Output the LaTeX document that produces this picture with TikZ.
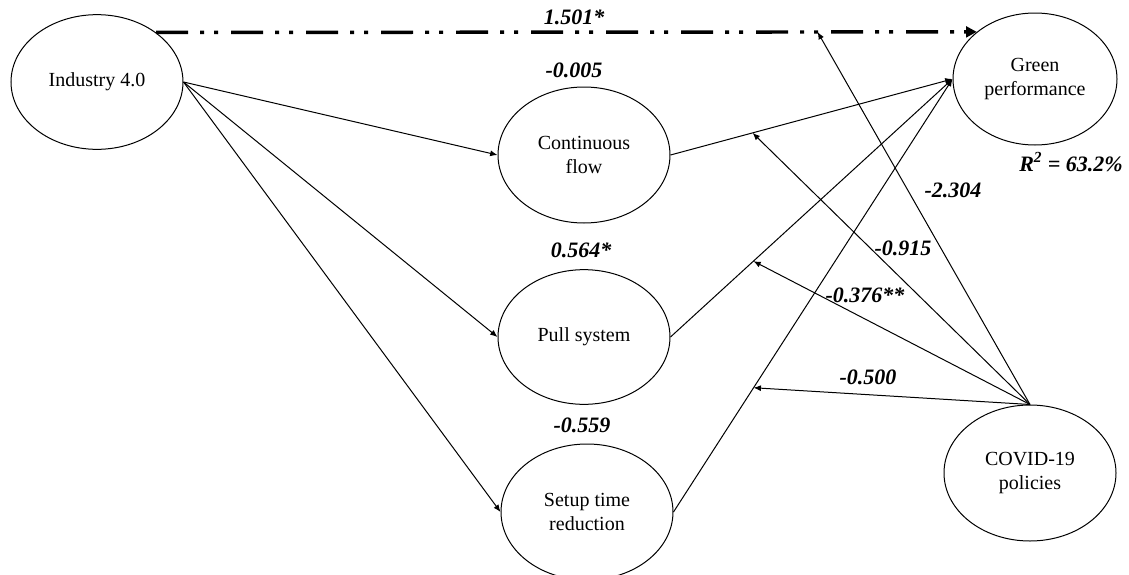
\documentclass[tikz,border=0pt]{standalone}
\usepackage{fontspec}
\setmainfont{Liberation Serif}
\usetikzlibrary{shapes.geometric,arrows.meta}
\begin{document}
\begin{tikzpicture}[x=0.75pt,y=-0.75pt,
  latent/.style={draw,ellipse,line width=0.75pt,inner sep=0pt,align=center,
     minimum width=129pt,minimum height=101pt,font=\fontsize{15}{17.5}\selectfont},
  path/.style={line width=0.75pt,-{Latex[length=5.5pt,width=4.5pt]}},
  coef/.style={font=\fontsize{16.5}{19}\selectfont\bfseries\itshape,inner sep=0pt},
  dashdotdot/.style={line width=2.6pt,dash pattern=on 24pt off 9pt on 3pt off 7.5pt on 3pt off 9.75pt,
     -{Triangle[length=8pt,width=8pt]}}
]
\useasboundingbox (0,0) rectangle (1129,575);
\node[latent] (ind) at (97,82) {Industry 4.0};
\node[latent,minimum width=123pt,minimum height=99pt] (gp) at (1035,79) {Green\\performance};
\node[latent,minimum height=102pt] (cf) at (584,155) {Continuous\\flow};
\node[latent] (ps) at (584,337) {Pull system};
\node[latent,minimum height=102pt] (st) at (587,512) {Setup time\\reduction};
\node[latent,minimum height=102pt] (cv) at (1030,473) {COVID-19\\policies};

% direct effect
\draw[dashdotdot] (ind.40) -- (gp.141);
\path (ind.40) -- (gp.141) coordinate[pos=0.806] (m1);

% Industry 4.0 to mediators
\draw[path] (ind.east) -- (cf.west);
\draw[path] (ind.east) -- (ps.west);
\draw[path] (ind.east) -- (st.west);

% mediators to green performance
\draw[path] (st.east) -- (gp.west);
\draw[path] (ps.east) -- (gp.west);
\draw[path] (cf.east) -- (gp.west);
\path (cf.east) -- (gp.west) coordinate[pos=0.291] (m2);
\path (ps.east) -- (gp.west) coordinate[pos=0.294] (m3);
\path (st.east) -- (gp.west) coordinate[pos=0.287] (m4);

% moderation
\draw[path] (cv.north) -- (m1);
\draw[path] (cv.north) -- (m2);
\draw[path] (cv.north) -- (m3);
\draw[path] (cv.north) -- (m4);

% coefficients
\node[coef] (l1) at (574,17) {1.501*};
\node[coef] (l2) at (574,70) {-0.005};
\node[coef] (l3) at (581,250) {0.564*};
\node[coef] (l4) at (582,425) {-0.559};
\node[coef] (l5) at (953,190) {-2.304};
\node[coef] (l6) at (903,248) {-0.915};
\node[coef] (l7) at (865,295) {-0.376**};
\node[coef] (l8) at (868,377) {-0.500};
\node[coef] (r2) at (1071,162) {R\textsuperscript{2} = 63.2\%};
\end{tikzpicture}
\end{document}
